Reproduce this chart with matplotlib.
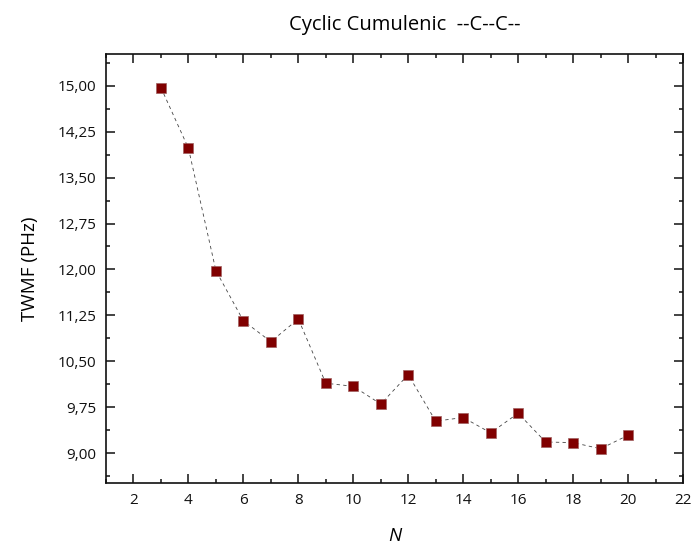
import matplotlib
matplotlib.use("Agg")
import matplotlib.pyplot as plt
from matplotlib.ticker import MultipleLocator, FuncFormatter

N = [3, 4, 5, 6, 7, 8, 9, 10, 11, 12, 13, 14, 15, 16, 17, 18, 19, 20]
twmf = [14.97, 13.98, 11.98, 11.16, 10.82, 11.19, 10.14, 10.09, 9.80, 10.28,
        9.52, 9.58, 9.33, 9.65, 9.18, 9.17, 9.07, 9.29]

title = "Cyclic Cumulenic  --C--C--"
xlabel = "N"
ylabel = "TWMF (PHz)"

plt.rcParams['font.family'] = ['Open Sans', 'DejaVu Sans']

fig = plt.figure(figsize=(6.94, 5.48), dpi=100)
ax = fig.add_axes([106/694, 1 - 483/548, (683-106)/694, (483-54)/548])

ax.plot(N, twmf, linestyle=(0, (4, 4)), color='#444444', linewidth=0.6, zorder=2)
ax.plot(N, twmf, linestyle='none', marker='s', markersize=7.6,
        markerfacecolor='#800000', markeredgecolor='#a06060', markeredgewidth=0.5, zorder=3)

ax.set_xlim(1, 22)
ax.set_ylim(8.51, 15.52)
ax.xaxis.set_major_locator(MultipleLocator(2))
ax.xaxis.set_minor_locator(MultipleLocator(1))
ax.yaxis.set_major_locator(MultipleLocator(0.75))
ax.yaxis.set_minor_locator(MultipleLocator(0.375))
ax.yaxis.set_major_formatter(FuncFormatter(lambda v, p: f"{v:.2f}".replace('.', ',')))

ax.tick_params(which='both', direction='in', top=True, right=True, width=1.1,
               labelsize=11, colors='#111111')
ax.tick_params(which='major', length=6.5, pad=7)
ax.tick_params(which='minor', length=3.2)
for s in ax.spines.values():
    s.set_linewidth(1.2)
    s.set_color('#111111')

ax.set_xlabel(xlabel, fontsize=13.5, fontstyle='italic', labelpad=14)
ax.set_ylabel(ylabel, fontsize=13.5, labelpad=13)
fig.text(405/694, 1 - 25/548, title, fontsize=14.5, ha='center', va='center')

fig.savefig("out.png", dpi=100)
